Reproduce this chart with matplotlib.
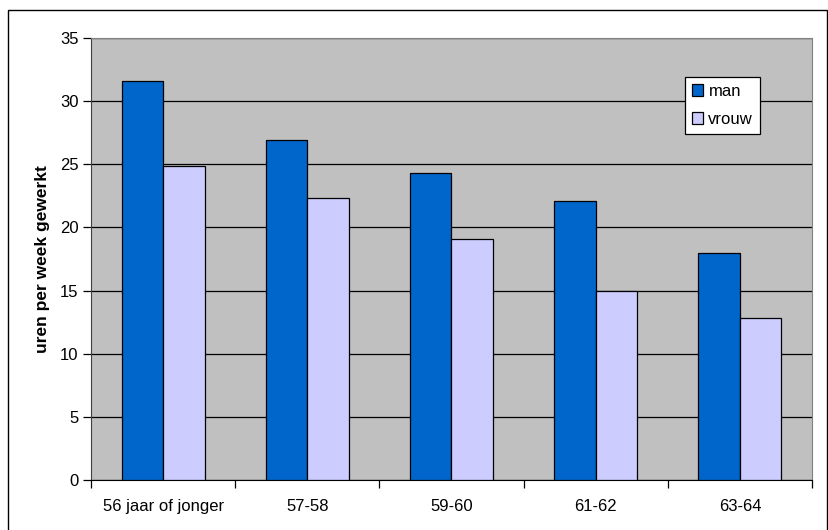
import numpy as np
import matplotlib.pyplot as plt
from matplotlib.patches import Rectangle

plt.rcParams['font.family'] = ['Liberation Sans', 'DejaVu Sans']

categories = ["56 jaar of jonger", "57-58", "59-60", "61-62", "63-64"]
man = [31.6, 26.9, 24.3, 22.1, 18.0]
vrouw = [24.9, 22.3, 19.1, 15.0, 12.8]

fig = plt.figure(figsize=(8.29, 5.30), dpi=100)
ax = fig.add_axes([91/829, 50/530, 721/829, 442/530])
ax.set_facecolor("#C0C0C0")

x = np.arange(len(categories))
w = 0.288
ax.bar(x - w/2, man, w, color="#0066CC", edgecolor="black", linewidth=0.9, label="man", zorder=3)
ax.bar(x + w/2, vrouw, w, color="#CCCCFF", edgecolor="black", linewidth=0.9, label="vrouw", zorder=3)

ax.set_xlim(-0.5, len(categories) - 0.5)
ax.set_ylim(0, 35)
ax.set_yticks(np.arange(0, 36, 5))
ax.yaxis.grid(True, color="black", linewidth=0.9, zorder=1)
ax.set_axisbelow(True)

ax.set_xticks(x)
ax.set_xticklabels(categories)
ax.set_xticks(np.arange(-0.5, len(categories)), minor=True)
ax.tick_params(axis="x", which="major", length=0, pad=14, labelsize=12)
ax.tick_params(axis="x", which="minor", length=6, width=0.9, direction="out")
ax.tick_params(axis="y", length=6, width=0.9, labelsize=12, pad=3)

for s in ["top", "right"]:
    ax.spines[s].set_color("#808080")
ax.spines["left"].set_color("#404040")
ax.spines["bottom"].set_color("black")

ax.set_ylabel("uren per week gewerkt", fontsize=12.5, fontweight="bold", labelpad=7)

leg = ax.legend(loc="upper left", bbox_to_anchor=(0.824, 0.912), fontsize=12,
                frameon=True, fancybox=False, edgecolor="black", facecolor="white",
                framealpha=1, handlelength=0.7, handleheight=0.7, handletextpad=0.3,
                labelspacing=0.8, borderpad=0.4, borderaxespad=0)
leg.get_frame().set_linewidth(0.9)

fig.patches.append(Rectangle((8.5/829, -0.01), (827 - 8.5)/829, (530 - 9.5)/530 + 0.01,
                             transform=fig.transFigure, fill=False, edgecolor="black",
                             linewidth=1.0))

fig.savefig("out.png", dpi=100, facecolor="white")
